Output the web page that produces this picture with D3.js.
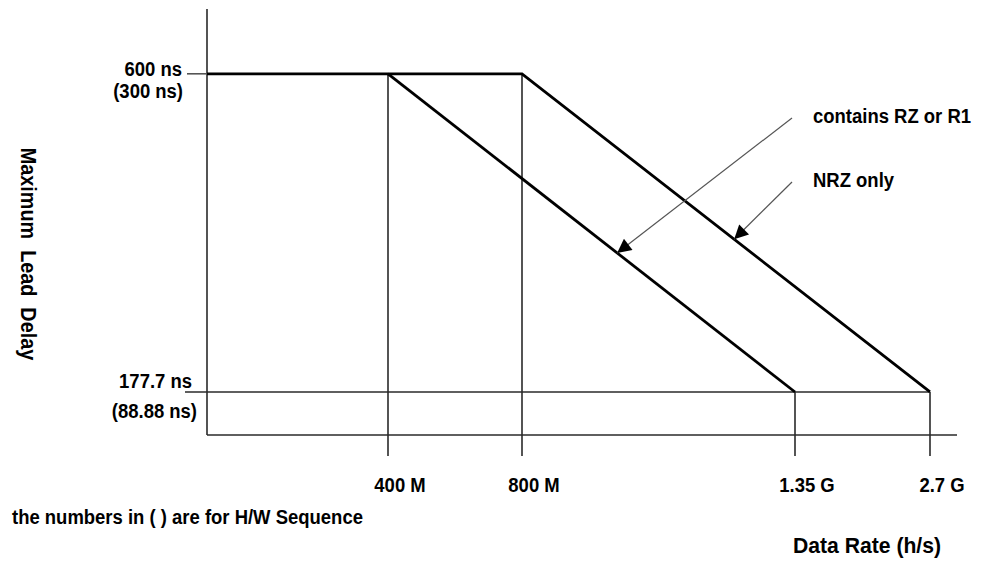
<!DOCTYPE html>
<html>
<head>
<meta charset="utf-8">
<script src="https://cdn.jsdelivr.net/npm/d3@7"></script>
<style>
  html, body { margin: 0; padding: 0; background: #fff; }
  svg text { font-family: "Liberation Sans", Arial, sans-serif; font-weight: bold; font-size: 21px; fill: #000; white-space: pre; }
</style>
</head>
<body>
<div id="chart"></div>
<script>
// Datos del esquema
const xTicks = [400, 800, 1350, 2700];
const xTickLabels = ['400 M', '800 M', '1.35 G', '2.7 G'];
const yTicks = [600, 177.7];
const yTickLabels = ['600 ns', '177.7 ns'];
const ySubLabels = ['(300 ns)', '(88.88 ns)'];
const seriesNRZ = [[0, 600], [800, 600], [2700, 177.7]];
const seriesRZ = [[400, 600], [1350, 177.7]];
const annoLabels = ['contains RZ or R1', 'NRZ only'];
const annoTips = [0.563, 0.52]; // posicion de la flecha a lo largo de cada linea

const width = 986, height = 565;
const SQUEEZE = 0.88; // la fuente original es condensada

let svg = d3.select('#chart').append('svg')
    .attr('width', width)
    .attr('height', height);

// Texto condensado: se escala en horizontal
function addText(px, py, str, anchor, size, sx) {
    return svg.append('text')
        .attr('transform', 'translate(' + px + ',' + py + ') scale(' + (sx || SQUEEZE) + ',1)')
        .attr('text-anchor', anchor || 'start')
        .style('font-size', (size || 21) + 'px')
        .text(str);
}

// Escala X por tramos (el esquema no es lineal)
let x = d3.scaleLinear()
    .domain([0, 400, 800, 1350, 2700, 2900])
    .range([207, 388, 522, 795, 930, 957]);

let y = d3.scaleLinear()
    .domain([120.6, 686])
    .range([435, 9]);

const thin = '#2a2a2a';

// Ejes
svg.append('line')
    .attr('x1', x(0)).attr('x2', x(0))
    .attr('y1', y(686)).attr('y2', y(120.6))
    .attr('stroke', thin).attr('stroke-width', 1.6);

svg.append('line')
    .attr('x1', x(0)).attr('x2', x(2900))
    .attr('y1', y(120.6)).attr('y2', y(120.6))
    .attr('stroke', thin).attr('stroke-width', 1.6);

// Marcas eje Y
svg.append('line')
    .attr('x1', x(0) - 20).attr('x2', x(0))
    .attr('y1', y(yTicks[0])).attr('y2', y(yTicks[0]))
    .attr('stroke', '#555').attr('stroke-width', 1.6);

svg.append('line')
    .attr('x1', x(0) - 22).attr('x2', x(2700))
    .attr('y1', y(yTicks[1])).attr('y2', y(yTicks[1]))
    .attr('stroke', thin).attr('stroke-width', 1.6);

let yLab = [{dx: -25, dy: 2}, {dx: -15, dy: -4}];
let ySub = [{dx: -24, dy: 24}, {dx: -10, dy: 26}];
yTicks.forEach(function(t, i) {
    addText(x(0) + yLab[i].dx, y(t) + yLab[i].dy, yTickLabels[i], 'end');
    addText(x(0) + ySub[i].dx, y(t) + ySub[i].dy, ySubLabels[i], 'end');
});

// Verticales desde cada quiebre hasta debajo del eje
let knees = seriesRZ.concat(seriesNRZ.slice(1));
svg.append('g').selectAll('line')
    .data(knees)
    .enter()
    .append('line')
        .attr('x1', function(d) { return x(d[0]); })
        .attr('x2', function(d) { return x(d[0]); })
        .attr('y1', function(d) { return y(d[1]); })
        .attr('y2', y(120.6) + 21)
        .attr('stroke', thin).attr('stroke-width', 1.6);

// Etiquetas eje X
xTicks.forEach(function(d, i) {
    addText(x(d) + 12, 492, xTickLabels[i], 'middle');
});

// Lineas principales
let line = d3.line()
    .x(function(d) { return x(d[0]); })
    .y(function(d) { return y(d[1]); });

[seriesNRZ, seriesRZ].forEach(function(s) {
    svg.append('path')
        .datum(s)
        .attr('d', line)
        .attr('fill', 'none')
        .attr('stroke', '#000')
        .attr('stroke-width', 2.8)
        .attr('stroke-linejoin', 'miter');
});

// Anotaciones con flecha
svg.append('defs').append('marker')
    .attr('id', 'arrow')
    .attr('viewBox', '0 0 10 10')
    .attr('refX', 10).attr('refY', 5)
    .attr('markerWidth', 18).attr('markerHeight', 14)
    .attr('markerUnits', 'userSpaceOnUse')
    .attr('orient', 'auto')
    .append('path')
        .attr('d', 'M0,0L10,5L0,10Z')
        .attr('fill', '#000');

let diag = [
    [seriesRZ[0], seriesRZ[1]],
    [seriesNRZ[1], seriesNRZ[2]]
];
let labelY = [123, 187];

diag.forEach(function(seg, i) {
    let t = annoTips[i];
    let tx = x(seg[0][0]) + t * (x(seg[1][0]) - x(seg[0][0]));
    let ty = y(seg[0][1]) + t * (y(seg[1][1]) - y(seg[0][1]));
    svg.append('line')
        .attr('x1', 792).attr('y1', labelY[i] - 5)
        .attr('x2', tx).attr('y2', ty)
        .attr('stroke', '#555')
        .attr('stroke-width', 1.2)
        .attr('marker-end', 'url(#arrow)');
    addText(813, labelY[i], annoLabels[i]);
});

// Titulos
svg.append('text')
    .attr('transform', 'translate(21,254) rotate(90) scale(' + SQUEEZE + ',1)')
    .attr('text-anchor', 'middle')
    .style('font-size', '22.5px')
    .text('Maximum  Lead  Delay');

addText(867, 553, 'Data Rate (h/s)', 'middle', 22.5, 0.94);

addText(12, 524, 'the numbers in ( ) are for H/W Sequence');
</script>
</body>
</html>
